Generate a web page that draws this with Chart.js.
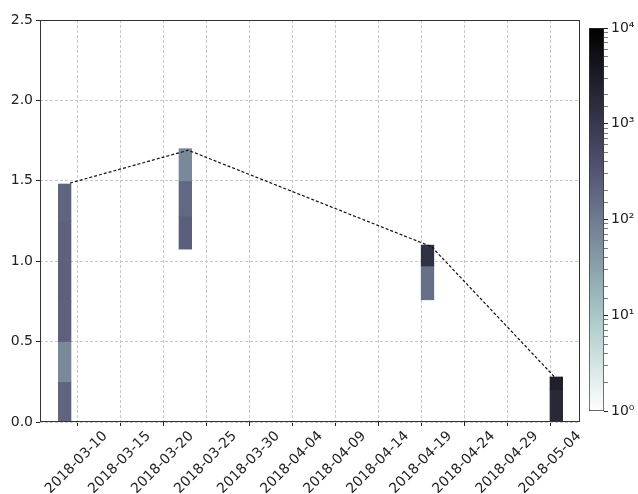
<!DOCTYPE html>
<html>
<head>
<meta charset="utf-8">
<script src="https://cdn.jsdelivr.net/npm/chart.js@4/dist/chart.umd.min.js"></script>
<style>
    html, body { margin: 0; padding: 0; background: #fff; }
    #wrap { position: relative; width: 638px; height: 494px; }
    #wrap canvas { position: absolute; left: 0; top: 0; }
</style>
</head>
<body>
<div id="wrap">
    <canvas id="chartMain" width="638" height="494"></canvas>
    <canvas id="chartBar" width="638" height="494"></canvas>
</div>
<script>
// x axis: date ticks and range
const tickLabels = ['2018-03-10', '2018-03-15', '2018-03-20', '2018-03-25', '2018-03-30', '2018-04-04',
    '2018-04-09', '2018-04-14', '2018-04-19', '2018-04-24', '2018-04-29', '2018-05-04'];
const xRange = ['2018-03-05T16:00Z', '2018-05-07T09:00Z'];
const yTicks = [0, 0.5, 1.0, 1.5, 2.0, 2.5];

// histogram columns (bin centres) and bin width in days
const columnCenters = ['2018-03-08T12:45Z', '2018-03-22T13:00Z', '2018-04-19T16:00Z', '2018-05-04T15:00Z'];
const binWidthDays = 1.47;

// histogram cells
const cellColumn = [0, 0, 0, 0, 0, 0, 1, 1, 1, 2, 2, 3, 3];
const cellLow = [0, 0.25, 0.5, 0.75, 1.0, 1.25, 1.075, 1.28, 1.5, 0.76, 0.97, 0, 0.2];
const cellHigh = [0.25, 0.5, 0.75, 1.0, 1.25, 1.48, 1.28, 1.5, 1.70, 0.97, 1.10, 0.2, 0.28];
const cellCounts = [200, 65, 215, 225, 215, 200, 230, 175, 65, 140, 1300, 1900, 2700];

// dashed line
const lineDates = ['2018-03-09T03:40Z', '2018-03-22T21:20Z', '2018-04-20T03:30Z', '2018-05-04T10:00Z'];
const lineValues = [1.486, 1.69, 1.09, 0.28];

// colour bar (log scale)
const colorMin = 1;
const colorMax = 10000;

const FONT = { family: 'DejaVu Sans', size: 14 };
const SUP = ['\u2070', '\u00b9', '\u00b2', '\u00b3', '\u2074'];

// matplotlib "bone" colormap, reversed: v in [0,1]
function boneR(v) {
    const t = 1 - Math.min(1, Math.max(0, v));
    const r = t < 0.746032 ? 0.652778 * t / 0.746032
        : 0.652778 + (t - 0.746032) * (1 - 0.652778) / (1 - 0.746032);
    let g;
    if (t < 0.365079) g = 0.319444 * t / 0.365079;
    else if (t < 0.746032) g = 0.319444 + (t - 0.365079) * (0.777778 - 0.319444) / (0.746032 - 0.365079);
    else g = 0.777778 + (t - 0.746032) * (1 - 0.777778) / (1 - 0.746032);
    const b = t < 0.365079 ? 0.444444 * t / 0.365079
        : 0.444444 + (t - 0.365079) * (1 - 0.444444) / (1 - 0.365079);
    return `rgb(${Math.round(r * 255)},${Math.round(g * 255)},${Math.round(b * 255)})`;
}

function countColor(c) {
    const lo = Math.log10(colorMin), hi = Math.log10(colorMax);
    return boneR((Math.log10(c) - lo) / (hi - lo));
}

const DAY = 86400000;
const xMin = Date.parse(xRange[0]);
const xMax = Date.parse(xRange[1]);
const cellData = cellColumn.map((col, i) => ({ x: Date.parse(columnCenters[col]), y: [cellLow[i], cellHigh[i]] }));
const lineData = lineDates.map((d, i) => ({ x: Date.parse(d), y: lineValues[i] }));

const framePlugin = {
    id: 'frame',
    afterDraw(chart) {
        const a = chart.chartArea;
        const ctx = chart.ctx;
        ctx.save();
        ctx.strokeStyle = '#333';
        ctx.lineWidth = 1;
        ctx.strokeRect(Math.round(a.left) + 0.5, Math.round(a.top) + 0.5,
            Math.round(a.right - a.left) - 1, Math.round(a.bottom - a.top) - 1);
        ctx.restore();
    }
};

const gridOpts = { color: '#c8c8c8', tickColor: '#222', tickLength: 4, tickBorderDash: [], offset: false };

const chartMain = new Chart(document.getElementById('chartMain'), {
    type: 'bar',
    data: {
        datasets: [
            {
                type: 'line',
                data: lineData,
                borderColor: '#111',
                borderWidth: 1.2,
                borderDash: [3, 2],
                pointRadius: 0,
                tension: 0,
                order: 0
            },
            {
                type: 'bar',
                data: cellData,
                backgroundColor: cellCounts.map(countColor),
                borderWidth: 0,
                barThickness: 12,
                order: 1
            }
        ]
    },
    options: {
        responsive: false,
        animation: false,
        layout: { padding: { top: 20, right: 58, left: 0, bottom: 0 } },
        plugins: { legend: { display: false }, tooltip: { enabled: false } },
        scales: {
            x: {
                type: 'linear',
                min: xMin,
                max: xMax,
                offset: false,
                z: 1,
                afterBuildTicks: s => { s.ticks = tickLabels.map(t => ({ value: Date.parse(t) })); },
                afterFit: s => { s.height = 72; },
                ticks: {
                    autoSkip: false,
                    minRotation: 45,
                    maxRotation: 45,
                    labelOffset: 28,
                    padding: 2,
                    color: '#222',
                    font: FONT,
                    callback: v => new Date(v).toISOString().slice(0, 10)
                },
                grid: gridOpts,
                border: { display: false, dash: [3, 2] }
            },
            y: {
                min: 0,
                max: 2.5,
                z: 1,
                afterBuildTicks: s => { s.ticks = yTicks.map(v => ({ value: v })); },
                afterFit: s => { s.width = 40; },
                ticks: { color: '#222', font: FONT, padding: 3, callback: v => v.toFixed(1) },
                grid: gridOpts,
                border: { display: false, dash: [3, 2] }
            }
        }
    },
    plugins: [framePlugin]
});

// bar width = one histogram bin, measured on the x scale
const xs = chartMain.scales.x;
chartMain.data.datasets[1].barThickness = xs.getPixelForValue(xMin + binWidthDays * DAY) - xs.getPixelForValue(xMin);
chartMain.update('none');

const chartBar = new Chart(document.getElementById('chartBar'), {
    type: 'bar',
    data: {
        labels: [''],
        datasets: [{
            data: [[colorMin, colorMax]],
            backgroundColor: (ctx) => {
                const area = ctx.chart.chartArea;
                if (!area) return '#888';
                const g = ctx.chart.ctx.createLinearGradient(0, area.bottom, 0, area.top);
                for (let i = 0; i <= 40; i++) g.addColorStop(i / 40, boneR(i / 40));
                return g;
            },
            borderColor: '#333',
            borderWidth: 1,
            borderSkipped: false,
            barPercentage: 1,
            categoryPercentage: 1
        }]
    },
    options: {
        responsive: false,
        animation: false,
        layout: { padding: { left: 589, top: 28, bottom: 83, right: 0 } },
        plugins: { legend: { display: false }, tooltip: { enabled: false } },
        scales: {
            x: { display: false },
            y: {
                type: 'logarithmic',
                position: 'right',
                min: colorMin,
                max: colorMax,
                afterFit: s => { s.width = 34; },
                ticks: {
                    autoSkip: false,
                    padding: 3,
                    color: '#222',
                    font: FONT,
                    callback: v => {
                        const e = Math.log10(v);
                        return Math.abs(e - Math.round(e)) < 1e-9 ? '10' + SUP[Math.round(e)] : '';
                    }
                },
                grid: {
                    drawOnChartArea: false,
                    tickLength: 4,
                    tickColor: '#222',
                    tickWidth: ctx => {
                        const e = Math.log10(ctx.tick.value);
                        return Math.abs(e - Math.round(e)) < 1e-9 ? 1 : 0.6;
                    }
                },
                border: { display: false }
            }
        }
    }
});
</script>
</body>
</html>
